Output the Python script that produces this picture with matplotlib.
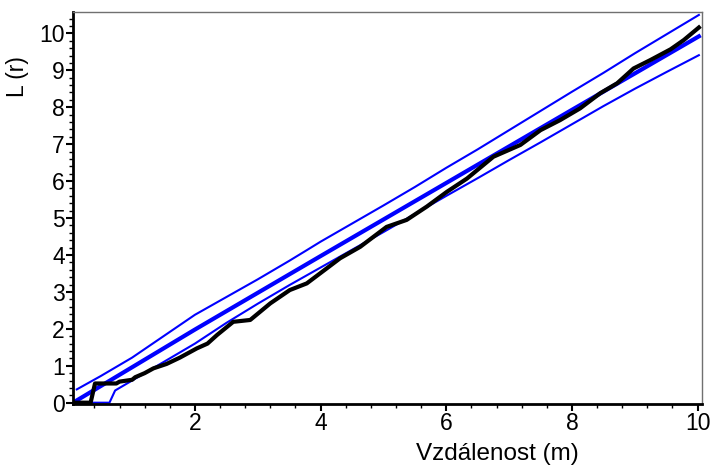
import matplotlib
matplotlib.use("Agg")
import matplotlib.pyplot as plt
from matplotlib.ticker import MultipleLocator

# theoretical L(r)
theo_r = [0.08, 2.0, 4.0, 6.0, 8.0, 10.02]
theo_l = [0.02, 1.98, 3.97, 5.95, 7.93, 9.92]

# upper envelope
up_r = [0.12, 0.5, 1.0, 1.5, 2.0, 2.5, 3.0, 3.5, 3.78, 4.0, 4.5, 5.0, 5.5, 6.0, 6.5,
        7.0, 7.5, 8.0, 8.5, 9.0, 9.5, 10.02]
up_l = [0.36, 0.72, 1.22, 1.8, 2.38, 2.86, 3.34, 3.84, 4.13, 4.36, 4.85, 5.34, 5.84,
        6.36, 6.86, 7.38, 7.9, 8.42, 8.93, 9.46, 9.97, 10.5]

# lower envelope
lo_r = [0.12, 0.64, 0.73, 1.0, 1.5, 2.0, 2.5, 3.0, 3.5, 4.0, 4.5, 5.0, 5.5, 6.0, 6.5,
        7.0, 7.5, 8.0, 8.5, 9.0, 9.5, 10.02]
lo_l = [0.0, 0.0, 0.33, 0.6, 1.1, 1.6, 2.16, 2.68, 3.18, 3.66, 4.14, 4.62, 5.11,
        5.6, 6.08, 6.57, 7.05, 7.54, 8.03, 8.5, 8.95, 9.41]

# observed L(r)
obs_r = [0.06, 0.34, 0.41, 0.75, 0.8, 1.0, 1.05, 1.2, 1.34, 1.55, 1.76, 2.03, 2.2,
         2.35, 2.61, 2.88, 3.2, 3.51, 3.78, 4.1, 4.31, 4.63, 5.05, 5.37, 5.69, 6.01,
         6.33, 6.75, 7.18, 7.5, 7.81, 8.13, 8.45, 8.72, 8.98, 9.25, 9.57, 9.78, 10.02]
obs_l = [0.0, 0.0, 0.52, 0.52, 0.57, 0.62, 0.69, 0.8, 0.93, 1.05, 1.22, 1.47, 1.6,
         1.83, 2.19, 2.24, 2.69, 3.05, 3.23, 3.64, 3.91, 4.22, 4.76, 4.95, 5.31, 5.71,
         6.07, 6.66, 6.98, 7.38, 7.65, 7.97, 8.38, 8.65, 9.05, 9.28, 9.57, 9.82, 10.16]

plt.rcParams["font.family"] = ["Liberation Sans", "DejaVu Sans"]

fig = plt.figure(figsize=(7.13, 4.68), dpi=100)
ax = fig.add_axes([0.1024, 0.1368, 0.8822, 0.8376])

ax.plot(up_r, up_l, color="#0000ff", lw=1.5)
ax.plot(lo_r, lo_l, color="#0000ff", lw=1.5)
ax.plot(theo_r, theo_l, color="#0000ff", lw=3)
ax.plot(obs_r, obs_l, color="black", lw=3, solid_joinstyle="round")

ax.set_xlim(0.06, 10.07)
ax.set_ylim(-0.035, 10.58)

ax.xaxis.set_major_locator(MultipleLocator(2))
ax.xaxis.set_minor_locator(MultipleLocator(0.4))
ax.yaxis.set_major_locator(MultipleLocator(1))
ax.yaxis.set_minor_locator(MultipleLocator(0.2))

for s in ["left", "bottom"]:
    ax.spines[s].set_linewidth(2)
    ax.spines[s].set_color("black")
for s in ["top", "right"]:
    ax.spines[s].set_linewidth(1)
    ax.spines[s].set_color("#707070")

ax.tick_params(which="major", direction="out", length=5, width=1.5, labelsize=16.5, pad=1)
ax.tick_params(which="minor", direction="out", length=3, width=1)
ax.tick_params(top=False, right=False, which="both")

ax.set_xlabel("Vzdálenost (m)", fontsize=17.5)
ax.xaxis.set_label_coords(0.674, -0.1)
ax.set_ylabel("L (r)", fontsize=16.5)
ax.yaxis.set_label_coords(-0.07, 0.834)

fig.savefig("out.png", dpi=100)
